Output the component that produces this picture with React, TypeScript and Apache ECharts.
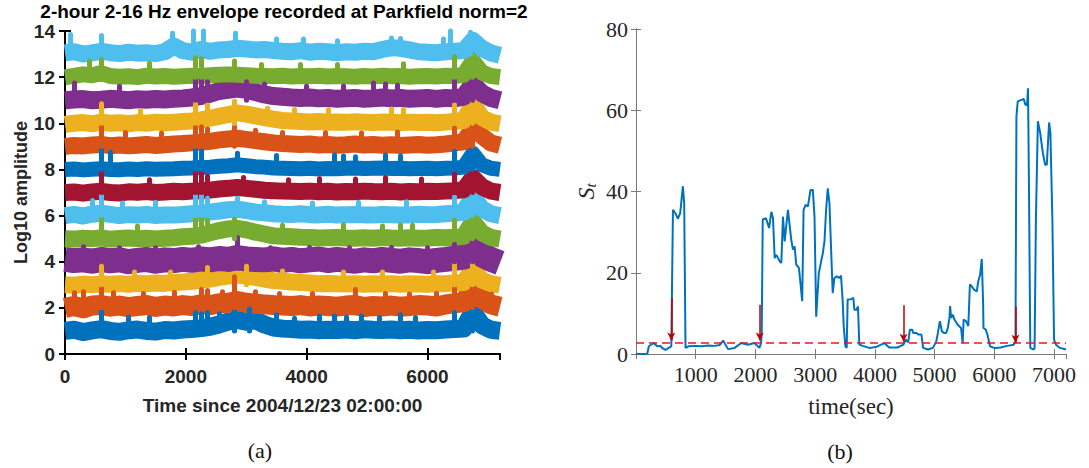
import React, { useEffect, useRef } from "react";
import * as echarts from "echarts";

// ---------------- Panel (a): 13 normalised log10 envelopes ----------------
const SAMPLE_STEP = 150; // seconds between envelope samples
const TRACE_OFFSETS = [1, 2, 3, 4, 5, 6, 7, 8, 9, 10, 11, 12, 13];
const TRACE_COLORS = [
  "#0072BD", "#D95319", "#EDB120", "#7E2F8E", "#77AC30", "#4DBEEE", "#A2142F",
  "#0072BD", "#D95319", "#EDB120", "#7E2F8E", "#77AC30", "#4DBEEE",
];
const TRACE_WIDTHS = [18, 20, 17, 25, 17, 17, 17, 15, 17, 17, 18, 16, 17];

const ENV_1 = [
  0.0, 0.05, -0.05, 0.02, 0.08, 0.0, -0.04, 0.03, 0.06, 0.0,
  -0.03, 0.04, 0.02, 0.06, 0.08, 0.12, 0.18, 0.28, 0.4, 0.48,
  0.4, 0.46, 0.28, 0.15, 0.1, 0.08, 0.05, 0.06, 0.03, 0.05,
  0.04, 0.06, 0.03, 0.07, 0.05, 0.04, 0.06, 0.03, 0.05, 0.02,
  0.04, 0.03, 0.06, 0.08, 0.1, 0.85, 0.25, 0.05, 0.0,
];
const ENV_2 = [
  0.0, 0.08, -0.02, 0.1, 0.12, 0.05, 0.1, 0.03, 0.08, 0.12,
  0.04, 0.1, 0.06, 0.12, 0.08, 0.15, 0.12, 0.2, 0.22, 0.3,
  0.22, 0.18, 0.15, 0.12, 0.1, 0.08, 0.12, 0.06, 0.1, 0.08,
  0.05, 0.1, 0.12, 0.04, 0.08, 0.06, 0.1, 0.05, 0.08, 0.12,
  0.1, 0.06, 0.15, 0.2, 0.25, 0.8, 0.4, 0.15, 0.05,
];
const ENV_3 = [
  0.0, -0.02, 0.03, 0.0, 0.04, 0.02, 0.05, 0.02, 0.06, 0.04,
  0.08, 0.06, 0.1, 0.12, 0.15, 0.2, 0.25, 0.32, 0.38, 0.42,
  0.38, 0.32, 0.25, 0.18, 0.15, 0.12, 0.1, 0.08, 0.05, 0.06,
  0.04, 0.03, 0.05, 0.02, 0.04, 0.03, 0.05, 0.02, 0.04, 0.03,
  0.02, 0.04, 0.05, 0.08, 0.1, 0.7, 0.2, 0.05, -0.02,
];
const ENV_4 = [
  0.1, 0.05, 0.08, 0.02, 0.1, 0.04, 0.08, 0.0, 0.06, 0.1,
  0.02, 0.08, 0.05, 0.1, 0.06, 0.12, 0.08, 0.14, 0.1, 0.18,
  0.12, 0.1, 0.08, 0.12, 0.06, 0.1, 0.04, 0.08, 0.12, 0.05,
  0.1, 0.06, 0.02, 0.08, 0.04, 0.1, 0.06, 0.02, 0.08, 0.05,
  0.0, 0.06, 0.1, 0.15, 0.2, 0.7, 0.3, 0.1, -0.05,
];
const ENV_5 = [
  0.0, -0.02, 0.02, 0.0, 0.03, -0.02, 0.01, 0.03, 0.0, 0.02,
  -0.01, 0.02, 0.04, 0.08, 0.1, 0.15, 0.25, 0.35, 0.42, 0.45,
  0.38, 0.28, 0.2, 0.12, 0.1, 0.08, 0.06, 0.05, 0.03, 0.04,
  0.05, 0.03, 0.02, 0.04, 0.02, 0.05, 0.03, 0.02, 0.04, 0.02,
  0.03, 0.05, 0.04, 0.06, 0.1, 0.75, 0.25, 0.05, -0.02,
];
const ENV_6 = [
  0.0, 0.05, -0.02, 0.06, 0.1, 0.05, 0.0, 0.04, 0.02, 0.05,
  0.0, 0.03, 0.02, 0.05, 0.08, 0.1, 0.15, 0.2, 0.25, 0.28,
  0.22, 0.15, 0.12, 0.08, 0.06, 0.05, 0.08, 0.04, 0.03, 0.06,
  0.02, 0.04, 0.05, 0.03, 0.02, 0.05, 0.04, 0.02, 0.03, 0.06,
  0.04, 0.05, 0.08, 0.1, 0.15, 0.85, 0.3, 0.08, 0.0,
];
const ENV_7 = [
  0.0, 0.02, -0.03, 0.02, 0.05, 0.0, -0.02, 0.03, 0.01, 0.04,
  0.0, 0.02, 0.05, 0.03, 0.06, 0.08, 0.1, 0.15, 0.18, 0.22,
  0.18, 0.14, 0.1, 0.08, 0.06, 0.05, 0.04, 0.06, 0.03, 0.05,
  0.02, 0.04, 0.03, 0.06, 0.04, 0.03, 0.05, 0.02, 0.04, 0.03,
  0.05, 0.04, 0.06, 0.08, 0.12, 0.65, 0.25, 0.06, 0.0,
];
const ENV_8 = [
  0.0, 0.02, -0.02, 0.01, 0.03, 0.0, -0.01, 0.02, 0.0, 0.03,
  0.01, 0.02, 0.03, 0.05, 0.06, 0.08, 0.1, 0.14, 0.16, 0.2,
  0.16, 0.12, 0.1, 0.06, 0.05, 0.04, 0.03, 0.05, 0.02, 0.04,
  0.03, 0.05, 0.06, 0.04, 0.05, 0.06, 0.04, 0.05, 0.03, 0.04,
  0.05, 0.03, 0.05, 0.06, 0.1, 0.7, 0.2, 0.05, 0.0,
];
const ENV_9 = [
  0.0, 0.04, 0.02, 0.06, 0.08, 0.03, 0.06, 0.02, 0.05, 0.08,
  0.04, 0.07, 0.1, 0.12, 0.15, 0.18, 0.22, 0.28, 0.32, 0.35,
  0.3, 0.25, 0.2, 0.15, 0.12, 0.1, 0.08, 0.1, 0.06, 0.08,
  0.05, 0.07, 0.1, 0.06, 0.08, 0.05, 0.07, 0.04, 0.06, 0.08,
  0.05, 0.07, 0.1, 0.15, 0.2, 0.8, 0.45, 0.15, 0.05,
];
const ENV_10 = [
  -0.05, 0.0, 0.03, -0.02, 0.05, 0.0, 0.02, -0.02, 0.03, 0.0,
  0.05, 0.02, 0.04, 0.08, 0.1, 0.15, 0.22, 0.3, 0.38, 0.45,
  0.4, 0.32, 0.25, 0.18, 0.12, 0.1, 0.08, 0.06, 0.08, 0.05,
  0.06, 0.04, 0.07, 0.05, 0.03, 0.06, 0.04, 0.02, 0.05, 0.03,
  0.04, 0.02, 0.05, 0.08, 0.12, 0.85, 0.25, 0.05, -0.02,
];
const ENV_11 = [
  0.0, 0.03, 0.05, 0.0, 0.02, 0.06, 0.03, 0.0, 0.04, 0.02,
  0.05, 0.03, 0.06, 0.08, 0.12, 0.18, 0.28, 0.4, 0.45, 0.5,
  0.45, 0.35, 0.25, 0.18, 0.15, 0.12, 0.1, 0.12, 0.08, 0.1,
  0.06, 0.08, 0.1, 0.06, 0.08, 0.12, 0.08, 0.1, 0.06, 0.08,
  0.1, 0.06, 0.1, 0.08, 0.15, 0.7, 0.3, 0.1, 0.0,
];
const ENV_12 = [
  0.0, 0.05, 0.12, 0.08, 0.18, 0.05, 0.02, 0.04, 0.0, 0.06,
  0.03, 0.05, 0.02, 0.04, 0.06, 0.05, 0.08, 0.1, 0.12, 0.1,
  0.08, 0.06, 0.05, 0.04, 0.06, 0.03, 0.05, 0.04, 0.06, 0.03,
  0.05, 0.04, 0.02, 0.05, 0.03, 0.06, 0.04, 0.05, 0.02, 0.04,
  0.05, 0.03, 0.06, 0.05, 0.1, 0.7, 0.2, 0.05, 0.0,
];
const ENV_13 = [
  0.05, 0.1, 0.0, 0.05, 0.12, 0.06, 0.02, 0.08, 0.04, 0.06,
  0.02, 0.1, 0.35, 0.15, 0.08, 0.2, 0.12, 0.18, 0.2, 0.25,
  0.22, 0.18, 0.2, 0.15, 0.12, 0.1, 0.15, 0.08, 0.12, 0.1,
  0.06, 0.1, 0.08, 0.12, 0.1, 0.2, 0.28, 0.25, 0.18, 0.1,
  0.08, 0.06, 0.1, 0.12, 0.15, 0.6, 0.25, 0.05, -0.05,
];

// spikes: [time (s), height above trace offset]
const SPIKES_1 = [[600, 0.85], [1050, 0.6], [1400, 0.58], [2150, 0.8], [2250, 0.75], [2350, 0.8], [2550, 0.75], [2800, 1.05], [3050, 0.95], [3500, 0.7], [3800, 0.55], [4200, 0.65], [4450, 0.65], [4650, 0.6], [4900, 0.65], [5200, 0.58], [5550, 0.7], [5800, 0.58], [6450, 0.8], [6740, 1.15]];
const SPIKES_2 = [[150, 0.65], [300, 0.7], [600, 0.85], [800, 0.65], [1300, 0.62], [1800, 0.68], [2250, 0.8], [2350, 0.75], [2600, 0.7], [2800, 1.35], [3150, 0.7], [3550, 0.62], [4100, 0.62], [4800, 0.8], [5300, 0.62], [5700, 0.6], [6150, 0.62], [6450, 0.85], [6740, 1.0], [7050, 0.6]];
const SPIKES_3 = [[600, 0.8], [1150, 0.55], [1750, 0.55], [2350, 0.75], [3000, 0.8], [3600, 0.6], [4600, 0.55], [5250, 0.55], [6100, 0.55], [6450, 0.9], [6740, 1.2]];
const SPIKES_4 = [[300, 0.65], [900, 0.6], [1500, 0.6], [2200, 0.65], [2850, 1.05], [3400, 0.6], [4050, 0.62], [4700, 0.6], [5400, 0.62], [6000, 0.6], [6450, 0.75], [6740, 1.15]];
const SPIKES_5 = [[600, 0.9], [1200, 0.55], [2150, 0.9], [2250, 0.9], [2350, 0.8], [2800, 0.85], [3600, 0.58], [4600, 0.6], [5250, 0.55], [5550, 0.6], [5750, 0.58], [6450, 0.8], [6740, 1.15]];
const SPIKES_6 = [[450, 0.65], [600, 0.85], [950, 0.55], [1500, 0.58], [2150, 0.85], [2250, 0.85], [2350, 0.75], [2850, 0.75], [3300, 0.6], [4100, 0.55], [4850, 0.58], [5650, 0.6], [6450, 0.8], [6740, 1.15]];
const SPIKES_7 = [[600, 0.95], [1400, 0.55], [2150, 0.9], [2250, 0.9], [2350, 0.7], [2950, 0.65], [3700, 0.55], [4200, 0.6], [4800, 0.58], [5300, 0.65], [5900, 0.58], [6450, 0.8], [6740, 1.0]];
const SPIKES_8 = [[600, 0.85], [750, 0.75], [2150, 0.85], [2250, 0.8], [2850, 0.7], [3500, 0.6], [4450, 0.62], [4600, 0.58], [4800, 0.55], [5300, 0.62], [5550, 0.58], [6450, 0.8], [6740, 1.1]];
const SPIKES_9 = [[600, 0.85], [1000, 0.6], [1600, 0.58], [2150, 0.85], [2250, 0.85], [2350, 0.75], [2800, 0.85], [3150, 0.7], [3600, 0.6], [4300, 0.6], [4900, 0.58], [5500, 0.62], [6450, 0.8], [6740, 1.0]];
const SPIKES_10 = [[600, 0.85], [1250, 0.55], [2150, 0.85], [2350, 0.8], [2800, 0.95], [3350, 0.65], [3800, 0.6], [4350, 0.6], [5400, 0.62], [5600, 0.6], [6450, 0.8], [6740, 1.25]];
const SPIKES_11 = [[150, 0.75], [900, 0.6], [2150, 0.95], [2250, 0.9], [2350, 0.8], [3000, 0.8], [3300, 0.7], [4000, 0.6], [4600, 0.62], [5100, 0.75], [5300, 0.7], [5500, 0.65], [6450, 0.85], [6740, 1.05]];
const SPIKES_12 = [[400, 0.7], [600, 0.75], [1400, 0.6], [2150, 0.85], [2250, 0.8], [2800, 0.7], [3250, 0.55], [3900, 0.55], [4500, 0.55], [5600, 0.58], [6450, 0.9], [6740, 1.0]];
const SPIKES_13 = [[80, 0.85], [600, 0.8], [1770, 0.9], [2120, 1.0], [2290, 1.0], [2810, 0.9], [3500, 0.65], [3950, 0.65], [4500, 0.58], [5400, 0.7], [5550, 0.68], [6260, 0.65], [6370, 1.0], [6700, 0.95]];

const ENVELOPES = [ENV_1, ENV_2, ENV_3, ENV_4, ENV_5, ENV_6, ENV_7, ENV_8, ENV_9, ENV_10, ENV_11, ENV_12, ENV_13];
const SPIKES = [SPIKES_1, SPIKES_2, SPIKES_3, SPIKES_4, SPIKES_5, SPIKES_6, SPIKES_7, SPIKES_8, SPIKES_9, SPIKES_10, SPIKES_11, SPIKES_12, SPIKES_13];

// ---------------- Panel (b): S_t statistic ----------------
const ST_TIME = [
  0, 188, 215, 298, 354, 409, 436, 492, 547, 591,
  619, 657, 702, 740, 785, 807, 829, 878, 989, 1099,
  1210, 1320, 1400, 1459, 1541, 1652, 1762, 1873, 1983, 2066,
  2094, 2105, 2122, 2177, 2228, 2267, 2294, 2322, 2350, 2406,
  2433, 2461, 2489, 2544, 2600, 2628, 2656, 2683, 2728, 2756,
  2783, 2806, 2839, 2878, 2922, 2961, 2989, 3017, 3061, 3100,
  3128, 3156, 3183, 3211, 3239, 3267, 3294, 3322, 3361, 3406,
  3433, 3461, 3478, 3506, 3528, 3544, 3600, 3639, 3656, 3694,
  3717, 3739, 3794, 3906, 4017, 4156, 4239, 4378, 4478, 4517,
  4558, 4586, 4624, 4641, 4696, 4724, 4779, 4807, 4890, 4972,
  5028, 5055, 5088, 5122, 5155, 5193, 5221, 5249, 5260, 5276,
  5304, 5332, 5387, 5442, 5470, 5486, 5525, 5564, 5591, 5624,
  5663, 5707, 5729, 5762, 5790, 5812, 5818, 5856, 5884, 5928,
  5995, 6105, 6216, 6326, 6354, 6370, 6392, 6464, 6492, 6519,
  6547, 6564, 6580, 6602, 6658, 6674, 6696, 6729, 6768, 6812,
  6851, 6879, 6895, 6917, 6939, 6972, 7000, 7033, 7100, 7200,
];
const ST_VALUE = [
  0, 0, 1.9, 2.7, 1.9, 2.0, 1.5, 1.0, 1.5, 1.9,
  35.5, 34.7, 33.3, 34.7, 41.3, 37, 1.5, 1.9, 2.0, 1.9,
  2.1, 2.0, 2.2, 3.3, 1.2, 1.5, 2.7, 2.3, 2.7, 1.5,
  2.7, 5.0, 33.1, 33.4, 31, 35, 33.4, 23.6, 24.4, 22.8,
  22.4, 33.8, 27.7, 35.5, 28.1, 25.7, 26.5, 22, 21.2, 17.1,
  13, 35.5, 36.7, 36.3, 40.4, 40.4, 33.8, 9.2, 19.9, 22.8,
  24.8, 27.7, 35.5, 40.8, 37.1, 25.7, 15, 18.7, 19.1, 18.7,
  19.3, 13, 6.8, 1.9, 1.5, 13.4, 13.5, 13.8, 10.9, 10.9,
  11.7, 2.3, 2.0, 1.5, 1.7, 2.7, 1.6, 1.6, 2.3, 3.5,
  2.9, 6.0, 6.0, 5.2, 5.2, 4.8, 4.8, 1.5, 1.1, 1.5,
  3.1, 5.2, 8.1, 5.6, 5.2, 5.2, 6.4, 8.9, 11.8, 8.9,
  9.7, 8.5, 7.2, 6.4, 2.7, 8.5, 8.1, 6.9, 17.1, 16.6,
  15.8, 15.4, 17.8, 19.5, 23.4, 12.6, 6.4, 6.0, 4.8, 1.9,
  1.5, 1.6, 2.0, 2.3, 3.1, 58.5, 62.2, 62.6, 62.8, 61.4,
  61.2, 65.4, 41, 1.5, 1.1, 1.5, 33, 57.3, 54.4, 49.5,
  46.6, 46.6, 51.1, 57, 54.4, 33, 3.5, 2.3, 1.5, 1.1,
];
const THRESHOLD = 2.7;
const ARROW_TIME = [591, 2072, 4480, 6354];
const ARROW_TOP = [13.8, 12.1, 12.0, 11.7];
const ARROW_TIP = [3.3, 3.3, 3.0, 2.8];

const SANS = "Liberation Sans, Arial, Helvetica, sans-serif";
const SERIF = "Liberation Serif, Times New Roman, serif";
const plain = (v: number) => String(v);

function buildOption(): any {
  const leftSeries = ENVELOPES.map((env, k) => {
    const off = TRACE_OFFSETS[k];
    const color = TRACE_COLORS[k];
    return {
      type: "line",
      xAxisIndex: 0,
      yAxisIndex: 0,
      data: env.map((d, i) => [i * SAMPLE_STEP, off + d]),
      symbol: "none",
      silent: true,
      lineStyle: { color, width: TRACE_WIDTHS[k], cap: "butt", join: "round" },
      itemStyle: { color },
      markLine: {
        silent: true,
        symbol: ["none", "none"],
        label: { show: false },
        emphasis: { disabled: true },
        lineStyle: { color, width: 5, type: "solid", opacity: 1, cap: "round" },
        data: SPIKES[k].map(([t, h]) => [{ coord: [t, off] }, { coord: [t, off + h] }]),
      },
    };
  });

  const arrowData = ARROW_TIME.map((t, i) => [
    { coord: [t, ARROW_TOP[i]], symbol: "none" },
    { coord: [t, ARROW_TIP[i]], symbol: "arrow", symbolSize: [6, 8] },
  ]);

  const rightSeries = {
    type: "line",
    xAxisIndex: 2,
    yAxisIndex: 2,
    data: ST_TIME.map((t, i) => [t, ST_VALUE[i]]),
    symbol: "none",
    silent: true,
    lineStyle: { color: "#0072BD", width: 2 },
    itemStyle: { color: "#0072BD" },
    markLine: {
      silent: true,
      symbol: ["none", "none"],
      label: { show: false },
      emphasis: { disabled: true },
      lineStyle: { color: "#c00000", width: 1.5, type: "solid", opacity: 1 },
      data: [
        { yAxis: THRESHOLD, lineStyle: { color: "#e41a1c", width: 1.5, type: [8, 5] } },
        ...arrowData,
      ],
    },
  };

  const leftAxisLine = { show: true, lineStyle: { color: "#000", width: 2 } };
  const leftTick = { show: true, inside: true, length: 6, lineStyle: { color: "#000", width: 2 } };
  const leftLabel = { fontFamily: SANS, fontWeight: "bold", fontSize: 19, color: "#262626", formatter: plain };

  const rightAxisLine = { show: true, lineStyle: { color: "#7a7a7a", width: 1 } };
  const rightTick = { show: true, inside: true, length: 5, lineStyle: { color: "#7a7a7a", width: 1 } };
  const rightLabel = { fontFamily: SERIF, fontSize: 22, color: "#262626", formatter: plain };

  return {
    animation: false,
    backgroundColor: "#ffffff",
    grid: [
      { left: 65, top: 31, width: 435, height: 323 },
      { left: 636, top: 29, width: 430, height: 325 },
    ],
    xAxis: [
      {
        gridIndex: 0, type: "value", position: "bottom", min: 0, max: 7200, interval: 2000,
        axisLine: leftAxisLine, axisTick: leftTick, splitLine: { show: false },
        axisLabel: { ...leftLabel, margin: 13, showMaxLabel: false },
        name: "Time since 2004/12/23 02:00:00", nameLocation: "middle", nameGap: 42,
        nameTextStyle: { fontFamily: SANS, fontWeight: "bold", fontSize: 19, color: "#262626" },
      },
      {
        gridIndex: 0, type: "value", position: "top", min: 0, max: 7200, interval: 2000,
        axisLine: leftAxisLine, axisTick: leftTick, splitLine: { show: false },
        axisLabel: { show: false },
      },
      {
        gridIndex: 1, type: "value", position: "bottom", min: 0, max: 7200, interval: 1000,
        axisLine: rightAxisLine, axisTick: rightTick, splitLine: { show: false },
        axisLabel: { ...rightLabel, margin: 9, showMinLabel: false, showMaxLabel: false },
        name: "time(sec)", nameLocation: "middle", nameGap: 41,
        nameTextStyle: { fontFamily: SERIF, fontSize: 23, color: "#262626" },
      },
      {
        gridIndex: 1, type: "value", position: "top", min: 0, max: 7200, interval: 1000,
        axisLine: rightAxisLine, axisTick: rightTick, splitLine: { show: false },
        axisLabel: { show: false },
      },
    ],
    yAxis: [
      {
        gridIndex: 0, type: "value", position: "left", min: 0, max: 14, interval: 2,
        axisLine: leftAxisLine, axisTick: leftTick, splitLine: { show: false },
        axisLabel: { ...leftLabel, margin: 10 },
        name: "Log10 amplitude", nameLocation: "middle", nameGap: 34,
        nameTextStyle: { fontFamily: SANS, fontWeight: "bold", fontSize: 18, color: "#262626" },
      },
      {
        gridIndex: 0, type: "value", position: "right", min: 0, max: 14, interval: 2,
        axisLine: leftAxisLine, axisTick: leftTick, splitLine: { show: false },
        axisLabel: { show: false },
      },
      {
        gridIndex: 1, type: "value", position: "left", min: 0, max: 80, interval: 20,
        axisLine: rightAxisLine, axisTick: rightTick, splitLine: { show: false },
        axisLabel: { ...rightLabel, margin: 8 },
        name: "{s|S}{t|t}", nameLocation: "middle", nameGap: 38,
        nameTextStyle: {
          rich: {
            s: { fontFamily: SERIF, fontStyle: "italic", fontSize: 24, color: "#262626" },
            t: { fontFamily: SERIF, fontStyle: "italic", fontSize: 15, color: "#262626", verticalAlign: "bottom", padding: [8, 0, 0, 0] },
          },
        },
      },
      {
        gridIndex: 1, type: "value", position: "right", min: 0, max: 80, interval: 20,
        axisLine: rightAxisLine, axisTick: rightTick, splitLine: { show: false },
        axisLabel: { show: false },
      },
    ],
    graphic: [
      {
        type: "text", silent: true,
        style: {
          text: "2-hour 2-16 Hz envelope recorded at Parkfield norm=2",
          x: 284, y: 11.5, textAlign: "center", textVerticalAlign: "middle",
          font: "bold 19px " + SANS, fill: "#000",
        },
      },
      {
        type: "text", silent: true,
        style: { text: "(a)", x: 260, y: 450, textAlign: "center", textVerticalAlign: "middle", font: "22px " + SERIF, fill: "#111" },
      },
      {
        type: "text", silent: true,
        style: { text: "(b)", x: 840, y: 451, textAlign: "center", textVerticalAlign: "middle", font: "22px " + SERIF, fill: "#111" },
      },
    ],
    series: [...leftSeries, rightSeries],
  };
}

export default function App() {
  const ref = useRef<HTMLDivElement>(null);
  useEffect(() => {
    if (!ref.current) return;
    const chart = echarts.init(ref.current, undefined, { renderer: "svg" });
    chart.setOption(buildOption());
    return () => chart.dispose();
  }, []);
  return (
    <div
      ref={ref}
      style={{ position: "absolute", left: 0, top: 0, width: 1089, height: 468, background: "#fff" }}
    />
  );
}
